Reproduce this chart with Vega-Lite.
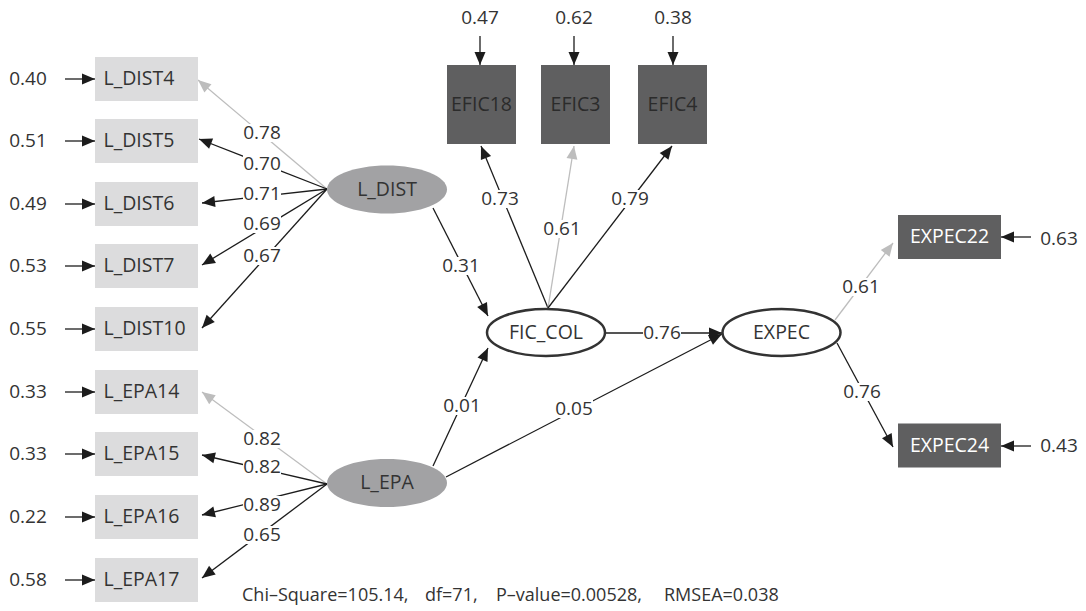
{
  "$schema": "https://vega.github.io/schema/vega-lite/v6.json",
  "width": 1086,
  "height": 611,
  "autosize": {"type": "fit", "contains": "padding"},
  "padding": 0,
  "background": "white",
  "config": {"view": {"stroke": null}, "font": "Open Sans"},
  "datasets": {
    "nodes": [
      {"name": "L_DIST4", "x": 146.5, "y": 79, "kind": "light"},
      {"name": "L_DIST5", "x": 146.5, "y": 141, "kind": "light"},
      {"name": "L_DIST6", "x": 146.5, "y": 204, "kind": "light"},
      {"name": "L_DIST7", "x": 146.5, "y": 266, "kind": "light"},
      {"name": "L_DIST10", "x": 146.5, "y": 329, "kind": "light"},
      {"name": "L_EPA14", "x": 146.5, "y": 392, "kind": "light"},
      {"name": "L_EPA15", "x": 146.5, "y": 454, "kind": "light"},
      {"name": "L_EPA16", "x": 146.5, "y": 517, "kind": "light"},
      {"name": "L_EPA17", "x": 146.5, "y": 580, "kind": "light"},
      {"name": "EFIC18", "x": 481.5, "y": 104.5, "kind": "efic"},
      {"name": "EFIC3", "x": 575.5, "y": 104.5, "kind": "efic"},
      {"name": "EFIC4", "x": 672.5, "y": 104.5, "kind": "efic"},
      {"name": "EXPEC22", "x": 949.5, "y": 237, "kind": "expec"},
      {"name": "EXPEC24", "x": 949.5, "y": 445.5, "kind": "expec"},
      {"name": "L_DIST", "x": 387, "y": 189.5, "kind": "latentGray"},
      {"name": "L_EPA", "x": 387, "y": 483, "kind": "latentGray"},
      {"name": "FIC_COL", "x": 546, "y": 332.5, "kind": "latentWhite"},
      {"name": "EXPEC", "x": 781.5, "y": 332.5, "kind": "latentWhite"}
    ],
    "edges": [
      {"x": 327, "y": 189, "x2": 198, "y2": 80, "lab": "0.78", "lx": 262, "ly": 133, "tone": "light"},
      {"x": 327, "y": 189, "x2": 199, "y2": 139, "lab": "0.70", "lx": 262, "ly": 164, "tone": "dark"},
      {"x": 327, "y": 189, "x2": 202, "y2": 203, "lab": "0.71", "lx": 262, "ly": 194, "tone": "dark"},
      {"x": 327, "y": 189, "x2": 202, "y2": 265, "lab": "0.69", "lx": 262, "ly": 224, "tone": "dark"},
      {"x": 327, "y": 189, "x2": 202, "y2": 328, "lab": "0.67", "lx": 262, "ly": 256, "tone": "dark"},
      {"x": 327, "y": 484, "x2": 202, "y2": 392, "lab": "0.82", "lx": 262, "ly": 439, "tone": "light"},
      {"x": 327, "y": 484, "x2": 202, "y2": 455, "lab": "0.82", "lx": 262, "ly": 467, "tone": "dark"},
      {"x": 327, "y": 484, "x2": 202, "y2": 515, "lab": "0.89", "lx": 262, "ly": 505, "tone": "dark"},
      {"x": 327, "y": 484, "x2": 202, "y2": 578, "lab": "0.65", "lx": 262, "ly": 535, "tone": "dark"},
      {"x": 433, "y": 208, "x2": 488, "y2": 316, "lab": "0.31", "lx": 461, "ly": 266, "tone": "dark"},
      {"x": 433, "y": 466, "x2": 488, "y2": 348, "lab": "0.01", "lx": 462, "ly": 406, "tone": "dark"},
      {"x": 446, "y": 477, "x2": 722, "y2": 334, "lab": "0.05", "lx": 574, "ly": 409, "tone": "dark"},
      {"x": 606, "y": 333, "x2": 722, "y2": 333, "lab": "0.76", "lx": 662, "ly": 333, "tone": "dark"},
      {"x": 548, "y": 308, "x2": 481, "y2": 146, "lab": "0.73", "lx": 500, "ly": 199, "tone": "dark"},
      {"x": 548, "y": 308, "x2": 574, "y2": 146, "lab": "0.61", "lx": 562, "ly": 229, "tone": "light"},
      {"x": 548, "y": 308, "x2": 672, "y2": 146, "lab": "0.79", "lx": 630, "ly": 199, "tone": "dark"},
      {"x": 835, "y": 320, "x2": 893, "y2": 243, "lab": "0.61", "lx": 861, "ly": 287, "tone": "light"},
      {"x": 837, "y": 343, "x2": 893, "y2": 447, "lab": "0.76", "lx": 862, "ly": 392, "tone": "dark"},
      {"x": 65, "y": 79, "x2": 95, "y2": 79, "lab": "0.40", "lx": 28, "ly": 79, "tone": "dark"},
      {"x": 65, "y": 141, "x2": 95, "y2": 141, "lab": "0.51", "lx": 28, "ly": 141, "tone": "dark"},
      {"x": 65, "y": 204, "x2": 95, "y2": 204, "lab": "0.49", "lx": 28, "ly": 204, "tone": "dark"},
      {"x": 65, "y": 266, "x2": 95, "y2": 266, "lab": "0.53", "lx": 28, "ly": 266, "tone": "dark"},
      {"x": 65, "y": 329, "x2": 95, "y2": 329, "lab": "0.55", "lx": 28, "ly": 329, "tone": "dark"},
      {"x": 65, "y": 392, "x2": 95, "y2": 392, "lab": "0.33", "lx": 28, "ly": 392, "tone": "dark"},
      {"x": 65, "y": 454, "x2": 95, "y2": 454, "lab": "0.33", "lx": 28, "ly": 454, "tone": "dark"},
      {"x": 65, "y": 517, "x2": 95, "y2": 517, "lab": "0.22", "lx": 28, "ly": 517, "tone": "dark"},
      {"x": 65, "y": 580, "x2": 95, "y2": 580, "lab": "0.58", "lx": 28, "ly": 580, "tone": "dark"},
      {"x": 480, "y": 36, "x2": 480, "y2": 65, "lab": "0.47", "lx": 480, "ly": 18, "tone": "dark"},
      {"x": 574, "y": 36, "x2": 574, "y2": 65, "lab": "0.62", "lx": 574, "ly": 18, "tone": "dark"},
      {"x": 673, "y": 36, "x2": 673, "y2": 65, "lab": "0.38", "lx": 673, "ly": 18, "tone": "dark"},
      {"x": 1031, "y": 237, "x2": 1001, "y2": 237, "lab": "0.63", "lx": 1059, "ly": 239, "tone": "dark"},
      {"x": 1031, "y": 446, "x2": 1001, "y2": 446, "lab": "0.43", "lx": 1059, "ly": 446, "tone": "dark"}
    ]
  },
  "layer": [
    {
      "data": {"name": "edges"},
      "mark": {"type": "rule", "strokeWidth": 1.3},
      "encoding": {
        "x": {"field": "x", "type": "quantitative", "axis": null, "scale": {"domain": [0, 1086], "nice": false, "zero": false}},
        "y": {"field": "y", "type": "quantitative", "axis": null, "scale": {"domain": [0, 611], "reverse": true, "nice": false, "zero": false}},
        "x2": {"field": "x2"},
        "y2": {"field": "y2"},
        "color": {"field": "tone", "type": "nominal", "legend": null, "scale": {"domain": ["dark", "light"], "range": ["#1c1c1c", "#bdbdbd"]}}
      }
    },
    {
      "data": {"name": "edges"},
      "transform": [{"calculate": "(atan2(datum.x2 - datum.x, datum.y - datum.y2) * 180 / PI + 360) % 360", "as": "ang"}],
      "mark": {"type": "point", "shape": "M0,0L-5.5,13L5.5,13Z", "size": 4, "filled": true, "opacity": 1},
      "encoding": {
        "x": {"field": "x2", "type": "quantitative", "axis": null},
        "y": {"field": "y2", "type": "quantitative", "axis": null},
        "angle": {"field": "ang", "type": "quantitative", "scale": null},
        "color": {"field": "tone", "type": "nominal", "legend": null}
      }
    },
    {
      "data": {"name": "edges"},
      "mark": {"type": "point", "shape": "M-19,-9H19V9H-19Z", "size": 4, "filled": true, "fill": "white", "opacity": 1},
      "encoding": {
        "x": {"field": "lx", "type": "quantitative", "axis": null},
        "y": {"field": "ly", "type": "quantitative", "axis": null}
      }
    },
    {
      "data": {"name": "edges"},
      "mark": {"type": "text", "fontSize": 19, "color": "#333333", "baseline": "middle", "align": "center"},
      "encoding": {
        "x": {"field": "lx", "type": "quantitative", "axis": null},
        "y": {"field": "ly", "type": "quantitative", "axis": null},
        "text": {"field": "lab"}
      }
    },
    {
      "data": {"name": "nodes"},
      "transform": [{"filter": "datum.kind == 'light'"}],
      "mark": {"type": "point", "shape": "M-51.5,-22H51.5V22H-51.5Z", "size": 4, "filled": true, "fill": "#dcdcdd", "opacity": 1},
      "encoding": {
        "x": {"field": "x", "type": "quantitative", "axis": null},
        "y": {"field": "y", "type": "quantitative", "axis": null}
      }
    },
    {
      "data": {"name": "nodes"},
      "transform": [{"filter": "datum.kind == 'efic'"}],
      "mark": {"type": "point", "shape": "M-34.5,-39.5H34.5V39.5H-34.5Z", "size": 4, "filled": true, "fill": "#5f5f60", "opacity": 1},
      "encoding": {
        "x": {"field": "x", "type": "quantitative", "axis": null},
        "y": {"field": "y", "type": "quantitative", "axis": null}
      }
    },
    {
      "data": {"name": "nodes"},
      "transform": [{"filter": "datum.kind == 'expec'"}],
      "mark": {"type": "point", "shape": "M-51.5,-22H51.5V22H-51.5Z", "size": 4, "filled": true, "fill": "#5f5f60", "opacity": 1},
      "encoding": {
        "x": {"field": "x", "type": "quantitative", "axis": null},
        "y": {"field": "y", "type": "quantitative", "axis": null}
      }
    },
    {
      "data": {"name": "nodes"},
      "transform": [{"filter": "datum.kind == 'latentGray'"}],
      "mark": {"type": "point", "shape": "M-60,0A60,24,0,1,0,60,0A60,24,0,1,0,-60,0Z", "size": 4, "filled": true, "fill": "#a2a2a4", "opacity": 1},
      "encoding": {
        "x": {"field": "x", "type": "quantitative", "axis": null},
        "y": {"field": "y", "type": "quantitative", "axis": null}
      }
    },
    {
      "data": {"name": "nodes"},
      "transform": [{"filter": "datum.kind == 'latentWhite'"}],
      "mark": {"type": "point", "shape": "M-59,0A59,23.5,0,1,0,59,0A59,23.5,0,1,0,-59,0Z", "size": 4, "filled": true, "fill": "white", "stroke": "#333333", "strokeWidth": 2.5, "opacity": 1},
      "encoding": {
        "x": {"field": "x", "type": "quantitative", "axis": null},
        "y": {"field": "y", "type": "quantitative", "axis": null}
      }
    },
    {
      "data": {"name": "nodes"},
      "transform": [{"filter": "datum.kind == 'light'"}],
      "mark": {"type": "text", "fontSize": 19.5, "color": "#333333", "baseline": "middle", "align": "left", "dx": -43},
      "encoding": {
        "x": {"field": "x", "type": "quantitative", "axis": null},
        "y": {"field": "y", "type": "quantitative", "axis": null},
        "text": {"field": "name"}
      }
    },
    {
      "data": {"name": "nodes"},
      "transform": [{"filter": "datum.kind == 'efic'"}],
      "mark": {"type": "text", "fontSize": 19.5, "color": "#2b2b2b", "baseline": "middle", "align": "center"},
      "encoding": {
        "x": {"field": "x", "type": "quantitative", "axis": null},
        "y": {"field": "y", "type": "quantitative", "axis": null},
        "text": {"field": "name"}
      }
    },
    {
      "data": {"name": "nodes"},
      "transform": [{"filter": "datum.kind == 'expec'"}],
      "mark": {"type": "text", "fontSize": 19.5, "color": "#ffffff", "baseline": "middle", "align": "center"},
      "encoding": {
        "x": {"field": "x", "type": "quantitative", "axis": null},
        "y": {"field": "y", "type": "quantitative", "axis": null},
        "text": {"field": "name"}
      }
    },
    {
      "data": {"name": "nodes"},
      "transform": [{"filter": "datum.kind == 'latentGray' || datum.kind == 'latentWhite'"}],
      "mark": {"type": "text", "fontSize": 19.5, "color": "#333333", "baseline": "middle", "align": "center"},
      "encoding": {
        "x": {"field": "x", "type": "quantitative", "axis": null},
        "y": {"field": "y", "type": "quantitative", "axis": null},
        "text": {"field": "name"}
      }
    },
    {
      "data": {"values": [{"stat": "Chi\u2013Square=105.14,"}]},
      "mark": {"type": "text", "fontSize": 18, "color": "#333333", "baseline": "middle", "align": "left"},
      "encoding": {
        "x": {"datum": 242, "type": "quantitative", "axis": null},
        "y": {"datum": 596, "type": "quantitative", "axis": null},
        "text": {"field": "stat"}
      }
    },
    {
      "data": {"values": [{"stat": "df=71,"}]},
      "mark": {"type": "text", "fontSize": 18, "color": "#333333", "baseline": "middle", "align": "left"},
      "encoding": {
        "x": {"datum": 425, "type": "quantitative", "axis": null},
        "y": {"datum": 596, "type": "quantitative", "axis": null},
        "text": {"field": "stat"}
      }
    },
    {
      "data": {"values": [{"stat": "P\u2013value=0.00528,"}]},
      "mark": {"type": "text", "fontSize": 18, "color": "#333333", "baseline": "middle", "align": "left"},
      "encoding": {
        "x": {"datum": 496, "type": "quantitative", "axis": null},
        "y": {"datum": 596, "type": "quantitative", "axis": null},
        "text": {"field": "stat"}
      }
    },
    {
      "data": {"values": [{"stat": "RMSEA=0.038"}]},
      "mark": {"type": "text", "fontSize": 18, "color": "#333333", "baseline": "middle", "align": "left"},
      "encoding": {
        "x": {"datum": 664, "type": "quantitative", "axis": null},
        "y": {"datum": 596, "type": "quantitative", "axis": null},
        "text": {"field": "stat"}
      }
    }
  ]
}
